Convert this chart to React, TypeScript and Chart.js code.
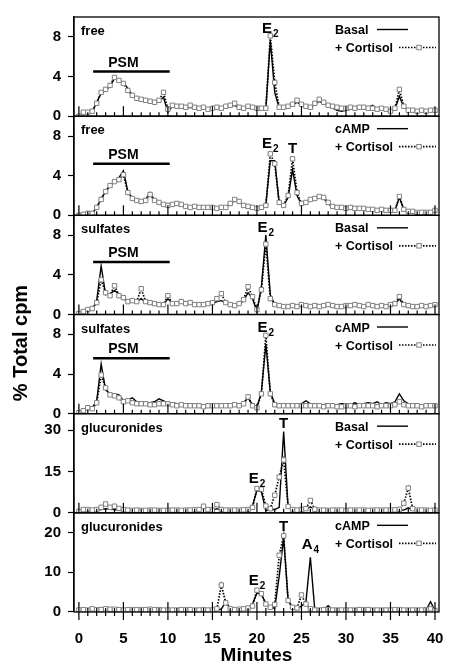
import React, { useEffect, useRef } from 'react';
import { Chart, registerables } from 'chart.js';

Chart.register(...registerables);

// ---------- data ----------
const minutes = [
  0, 0.5, 1, 1.5, 2, 2.5, 3, 3.5, 4, 4.5, 5, 5.5, 6, 6.5, 7, 7.5, 8, 8.5, 9, 9.5,
  10, 10.5, 11, 11.5, 12, 12.5, 13, 13.5, 14, 14.5, 15, 15.5, 16, 16.5, 17, 17.5, 18, 18.5, 19, 19.5,
  20, 20.5, 21, 21.5, 22, 22.5, 23, 23.5, 24, 24.5, 25, 25.5, 26, 26.5, 27, 27.5, 28, 28.5, 29, 29.5,
  30, 30.5, 31, 31.5, 32, 32.5, 33, 33.5, 34, 34.5, 35, 35.5, 36, 36.5, 37, 37.5, 38, 38.5, 39, 39.5, 40,
];

const freeBasal = [
  0.1, 0.3, 0.3, 0.4, 1.4, 2.3, 2.6, 3.0, 3.8, 3.6, 3.4, 2.8, 2.1, 1.8, 1.7, 1.6, 1.5, 1.4, 1.5, 1.9,
  0.4, 1.0, 0.9, 0.9, 0.8, 0.9, 0.8, 0.7, 0.8, 0.6, 0.7, 0.8, 0.8, 0.9, 1.0, 1.1, 0.8, 0.7, 0.9, 0.8,
  0.7, 0.7, 0.7, 7.6, 2.4, 0.8, 0.8, 0.9, 1.1, 1.4, 1.1, 0.9, 0.8, 1.2, 1.5, 1.3, 1.0, 0.8, 0.6, 0.5,
  0.6, 0.7, 0.8, 0.8, 0.8, 0.9, 1.1, 0.7, 0.7, 0.6, 0.5, 0.7, 2.0, 0.9, 0.6, 0.5, 0.5, 0.5, 0.5, 0.5, 0.5,
];
const freeBasalCortisol = [
  0.0, 0.4, 0.4, 0.5, 1.3, 2.4, 2.7, 3.1, 3.9, 3.6, 3.3, 2.6, 2.1, 1.8, 1.7, 1.6, 1.5, 1.4, 1.6, 2.4,
  0.7, 1.1, 1.0, 1.0, 0.9, 1.1, 0.9, 0.8, 0.9, 0.7, 0.8, 0.9, 0.8, 1.0, 1.1, 1.3, 0.9, 0.8, 1.0, 0.9,
  0.8, 0.8, 0.8, 8.1, 3.4, 0.9, 0.9, 1.0, 1.2, 1.6, 1.2, 1.0, 0.9, 1.3, 1.7, 1.4, 1.1, 1.0, 0.9, 0.8,
  0.8, 0.9, 0.8, 0.9, 0.9, 0.8, 0.8, 0.7, 0.8, 0.7, 0.5, 0.8, 2.7, 1.0, 0.6, 0.6, 0.5, 0.6, 0.5, 0.6, 0.6,
];

const freeCamp = [
  0.0, 0.1, 0.1, 0.2, 0.8, 1.7, 2.4, 3.0, 3.4, 3.8, 4.5, 2.4, 1.7, 1.5, 1.4, 1.6, 2.3, 1.5, 1.3, 1.1,
  1.0, 1.1, 1.1, 1.0, 0.8, 0.8, 0.8, 0.8, 0.7, 0.7, 0.7, 0.7, 0.7, 0.8, 1.1, 1.5, 1.4, 1.0, 0.8, 0.7,
  0.7, 0.8, 1.1, 5.5, 5.5, 1.2, 1.0, 1.8, 4.6, 2.0, 1.1, 1.3, 1.5, 1.7, 1.8, 1.7, 1.2, 0.8, 0.7, 0.7,
  0.7, 0.7, 0.6, 0.6, 0.6, 0.5, 0.5, 0.5, 0.5, 0.4, 0.4, 0.5, 1.8, 0.6, 0.4, 0.3, 0.3, 0.3, 0.3, 0.3, 0.4,
];
const freeCampCortisol = [
  0.0, 0.1, 0.2, 0.2, 0.8, 1.6, 2.4, 3.0, 3.4, 3.6, 4.1, 2.3, 1.7, 1.5, 1.4, 1.5, 2.1, 1.5, 1.3, 1.1,
  1.0, 1.1, 1.2, 1.1, 0.9, 0.8, 0.9, 0.8, 0.8, 0.8, 0.8, 0.7, 0.8, 0.8, 1.2, 1.6, 1.4, 1.0, 0.9, 0.8,
  0.7, 0.8, 1.0, 6.2, 5.2, 1.3, 1.0, 2.0, 5.7, 2.3, 1.2, 1.3, 1.6, 1.7, 1.9, 1.8, 1.3, 0.9, 0.8, 0.8,
  0.7, 0.8, 0.7, 0.7, 0.7, 0.6, 0.6, 0.5, 0.6, 0.5, 0.5, 0.5, 1.9, 0.6, 0.4, 0.4, 0.3, 0.3, 0.3, 0.3, 0.5,
];

const sulfatesBasal = [
  0.1, 0.2, 0.4, 0.5, 1.4, 4.9, 2.0, 2.1, 2.4, 2.1, 1.6, 1.3, 1.3, 1.3, 1.6, 1.2, 1.1, 1.0, 1.0, 1.0,
  1.6, 1.1, 1.1, 1.5, 1.2, 1.1, 1.0, 1.0, 1.0, 1.0, 1.1, 1.3, 1.4, 1.2, 1.0, 0.9, 1.0, 1.4, 2.2, 1.6,
  0.3, 2.8, 8.0, 2.0, 1.0, 0.8, 0.8, 0.8, 0.8, 0.8, 0.9, 0.9, 0.8, 0.8, 0.8, 0.9, 0.9, 0.8, 0.8, 0.8,
  0.8, 0.9, 0.9, 0.9, 0.8, 0.9, 0.9, 0.8, 0.8, 0.8, 0.9, 1.0, 1.6, 0.9, 0.8, 0.7, 0.7, 0.8, 0.7, 0.8, 0.9,
];
const sulfatesBasalCortisol = [
  0.1, 0.3, 0.5, 0.6, 1.2, 3.5, 2.2, 1.9, 2.9, 1.9, 1.7, 1.3, 1.4, 1.3, 2.6, 1.3, 1.2, 1.1, 1.0, 1.0,
  1.9, 1.1, 1.1, 1.3, 1.1, 1.2, 1.0, 1.0, 1.0, 1.1, 1.2, 1.6, 2.1, 1.2, 1.0, 0.9, 1.1, 1.5, 2.8, 1.8,
  0.5, 2.5, 7.1, 1.6, 1.0, 0.9, 0.8, 0.8, 0.9, 0.8, 1.0, 0.9, 0.8, 0.9, 0.8, 0.9, 1.0, 0.9, 0.8, 0.8,
  0.9, 0.9, 1.0, 0.9, 0.8, 1.0, 0.9, 0.8, 0.9, 0.8, 1.0, 1.1, 1.8, 1.0, 0.9, 0.8, 0.8, 0.9, 0.8, 0.9, 1.0,
];

const sulfatesCamp = [
  0.1, 0.3, 0.7, 0.6, 1.3, 5.0, 2.4, 2.0, 2.0, 1.9, 1.3, 1.4, 1.6, 1.2, 1.2, 1.1, 1.1, 1.2, 1.5, 1.3,
  1.1, 1.1, 1.0, 1.0, 0.9, 1.0, 0.9, 0.9, 0.9, 0.9, 0.9, 0.9, 0.9, 0.9, 0.9, 0.9, 0.8, 1.1, 1.6, 0.9,
  0.6, 2.2, 7.0, 2.2, 1.0, 0.9, 0.9, 1.0, 0.9, 0.9, 1.0, 1.3, 1.0, 0.9, 0.9, 0.9, 1.0, 0.9, 0.9, 1.0,
  1.0, 0.9, 1.1, 0.9, 1.0, 1.1, 1.0, 1.2, 0.9, 1.1, 1.0, 1.2, 2.0, 1.3, 1.0, 0.9, 0.8, 0.8, 0.9, 0.8, 0.8,
];
const sulfatesCampCortisol = [
  0.1, 0.3, 0.6, 0.5, 1.1, 3.9, 2.6, 1.9, 1.8, 1.6, 1.2, 1.3, 1.1, 1.0, 1.0, 1.0, 0.9, 0.9, 1.0, 1.0,
  1.0, 0.9, 0.8, 0.9, 0.8, 0.8, 0.8, 0.8, 0.7, 0.8, 0.8, 0.8, 0.8, 0.8, 0.8, 0.9, 0.8, 1.0, 1.7, 0.8,
  0.6, 2.0, 7.9, 2.0, 0.9, 0.8, 0.8, 0.8, 0.8, 0.8, 0.8, 0.8, 0.8, 0.8, 0.8, 0.7, 0.8, 0.8, 0.7, 0.7,
  0.8, 0.8, 0.7, 0.8, 0.8, 0.8, 0.8, 0.7, 0.8, 0.8, 0.8, 0.9, 1.2, 0.9, 0.8, 0.8, 0.8, 0.7, 0.8, 0.8, 0.8,
];

const glucBasal = [
  0.5, 1.0, 1.0, 1.0, 1.0, 1.2, 1.5, 1.3, 1.2, 1.0, 1.0, 0.9, 0.8, 0.8, 0.8, 0.8, 0.8, 0.8, 0.8, 0.8,
  0.8, 0.8, 0.8, 0.8, 0.8, 0.8, 0.9, 1.0, 2.8, 1.0, 0.9, 1.5, 1.0, 0.9, 0.9, 0.9, 0.9, 1.0, 1.2, 2.5,
  8.2, 7.6, 0.8, 1.2, 1.2, 2.0, 29.5, 2.0, 1.0, 1.0, 1.0, 1.2, 2.2, 1.1, 0.9, 0.9, 0.9, 0.9, 0.9, 0.9,
  0.9, 0.9, 0.9, 0.9, 0.9, 0.9, 0.9, 0.9, 0.9, 0.9, 0.9, 0.9, 1.0, 1.0, 1.8, 1.0, 0.9, 0.9, 0.9, 0.9, 0.9,
];
const glucBasalCortisol = [
  0.5, 1.2, 1.2, 1.0, 1.2, 2.0, 3.2, 2.0, 2.4, 1.6, 1.2, 1.0, 0.9, 1.0, 0.9, 0.9, 1.0, 1.0, 0.9, 0.9,
  0.9, 1.0, 1.0, 0.9, 1.0, 1.0, 1.1, 1.2, 2.4, 1.2, 1.0, 3.0, 1.2, 1.0, 1.0, 1.0, 1.0, 1.1, 1.2, 2.0,
  8.8, 8.6, 2.5, 1.5, 6.4, 13.0, 19.2, 2.3, 1.2, 1.0, 1.2, 1.5, 4.5, 1.3, 1.0, 1.0, 0.9, 1.0, 1.0, 1.0,
  0.9, 1.0, 1.0, 1.0, 1.0, 0.9, 1.0, 1.0, 1.0, 1.0, 1.0, 1.1, 1.3, 3.5, 9.0, 1.5, 1.0, 1.0, 1.0, 0.9, 1.0,
];

const glucCamp = [
  0.4, 0.5, 0.5, 0.7, 0.5, 0.6, 1.0, 0.8, 0.9, 0.8, 0.5, 0.5, 0.5, 0.5, 0.5, 0.5, 0.5, 0.5, 0.5, 0.5,
  0.5, 0.5, 0.5, 0.5, 0.5, 0.5, 0.5, 0.5, 0.5, 0.5, 0.5, 0.5, 0.7, 2.6, 0.8, 0.6, 0.6, 0.7, 0.9, 2.0,
  4.8, 4.4, 2.2, 1.0, 1.0, 9.0, 18.8, 3.0, 1.0, 0.8, 1.5, 2.5, 13.8, 0.5, 0.5, 0.6, 1.6, 0.5, 0.5, 0.5,
  0.5, 0.5, 0.5, 0.5, 0.5, 0.5, 0.5, 0.5, 0.5, 0.5, 0.5, 0.5, 0.5, 0.5, 0.5, 0.5, 0.5, 0.5, 0.5, 2.6, 0.3,
];
const glucCampCortisol = [
  0.5, 0.6, 0.5, 0.8, 0.6, 0.6, 0.8, 0.7, 0.7, 0.6, 0.5, 0.6, 0.6, 0.6, 0.6, 0.6, 0.7, 0.6, 0.6, 0.5,
  0.5, 0.5, 0.5, 0.6, 0.6, 0.6, 0.5, 0.5, 0.6, 0.5, 0.5, 0.8, 6.8, 2.3, 0.8, 0.6, 0.7, 0.8, 1.0, 1.5,
  5.5, 4.6, 2.0, 1.2, 1.9, 14.3, 19.2, 2.9, 1.2, 1.0, 4.3, 2.0, 0.8, 0.5, 0.5, 0.6, 0.6, 0.5, 0.5, 0.5,
  0.5, 0.5, 0.5, 0.6, 0.6, 0.6, 0.5, 0.5, 0.5, 0.5, 0.5, 0.6, 0.6, 0.5, 0.5, 0.5, 0.5, 0.5, 0.6, 0.8, 0.4,
];

const xTickValues = [0, 5, 10, 15, 20, 25, 30, 35, 40];
const yTicksFree = [0, 4, 8];
const yTicksGlucBasal = [0, 15, 30];
const yTicksGlucCamp = [0, 10, 20];
const panelNames = ['free', 'free', 'sulfates', 'sulfates', 'glucuronides', 'glucuronides'];
const controlNames = ['Basal', 'cAMP', 'Basal', 'cAMP', 'Basal', 'cAMP'];
const panelMax = [10, 10, 10, 10, 36, 25];
const psmLevels = [4.5, 5.2, 5.3, 5.6];
const psmRange = [1.6, 10.2];
const psmLabelX = 5.0;
const peakLabels = [
  { panel: 0, text: 'E', sub: '2', x: 21.5, y: 8.4 },
  { panel: 1, text: 'E', sub: '2', x: 21.5, y: 6.8 },
  { panel: 1, text: 'T', sub: '', x: 24.0, y: 6.3 },
  { panel: 2, text: 'E', sub: '2', x: 21.0, y: 8.3 },
  { panel: 3, text: 'E', sub: '2', x: 21.0, y: 8.2 },
  { panel: 4, text: 'T', sub: '', x: 23.0, y: 30.7 },
  { panel: 4, text: 'E', sub: '2', x: 20.0, y: 10.8 },
  { panel: 5, text: 'T', sub: '', x: 23.0, y: 20.3 },
  { panel: 5, text: 'E', sub: '2', x: 20.0, y: 6.7 },
  { panel: 5, text: 'A', sub: '4', x: 26.0, y: 16.0 },
];

// ---------- config ----------
const FONT = '"Liberation Sans", Arial, Helvetica, sans-serif';
const controlSeries = [freeBasal, freeCamp, sulfatesBasal, sulfatesCamp, glucBasal, glucCamp];
const cortisolSeries = [
  freeBasalCortisol, freeCampCortisol, sulfatesBasalCortisol,
  sulfatesCampCortisol, glucBasalCortisol, glucCampCortisol,
];
const yTickSets = [yTicksFree, yTicksFree, yTicksFree, yTicksFree, yTicksGlucBasal, yTicksGlucCamp];
const axisIds = ['y1', 'y2', 'y3', 'y4', 'y5', 'y6'];

function toPoints(vals: number[]) {
  return minutes.map((t, i) => ({ x: t, y: vals[i] }));
}

function drawMarker(ctx: CanvasRenderingContext2D, x: number, y: number) {
  ctx.save();
  ctx.setLineDash([]);
  ctx.fillStyle = '#fff';
  ctx.strokeStyle = '#808080';
  ctx.lineWidth = 1;
  ctx.fillRect(x - 2.2, y - 2.2, 4.4, 4.4);
  ctx.strokeRect(x - 2.2, y - 2.2, 4.4, 4.4);
  ctx.restore();
}

const overlay = {
  id: 'overlay',
  afterDraw(chart: any) {
    const { ctx, chartArea: ca, scales } = chart;
    const xs = scales.x;
    ctx.save();
    axisIds.forEach((id, idx) => {
      const ys = scales[id];
      const top = ys.top;
      const bottom = ys.bottom;
      // frame
      ctx.setLineDash([]);
      ctx.strokeStyle = '#000';
      ctx.lineWidth = 1.3;
      ctx.strokeRect(ca.left, top, ca.right - ca.left, bottom - top);
      // minute ticks
      ctx.lineWidth = 1.2;
      for (let m = 0; m <= 40; m++) {
        const px = xs.getPixelForValue(m);
        const major = m % 5 === 0;
        const up = major ? 10 : 4;
        const down = idx === axisIds.length - 1 ? (major ? 8 : 4) : 0;
        ctx.beginPath();
        ctx.moveTo(px, bottom - up);
        ctx.lineTo(px, bottom + down);
        ctx.stroke();
      }
      // panel name
      ctx.fillStyle = '#000';
      ctx.textAlign = 'left';
      ctx.textBaseline = 'alphabetic';
      ctx.font = `bold 13px ${FONT}`;
      ctx.fillText(panelNames[idx], ca.left + 7, top + 18);
      // legend
      const lx = ca.right - 104;
      ctx.font = `bold 12.5px ${FONT}`;
      ctx.fillText(controlNames[idx], lx, top + 17);
      ctx.fillText('+ Cortisol', lx, top + 35);
      ctx.lineWidth = 1.4;
      ctx.beginPath();
      ctx.moveTo(ca.right - 62, top + 12.5);
      ctx.lineTo(ca.right - 31, top + 12.5);
      ctx.stroke();
      ctx.lineWidth = 1.6;
      ctx.setLineDash([1.5, 1.5]);
      ctx.beginPath();
      ctx.moveTo(ca.right - 40, top + 30.5);
      ctx.lineTo(ca.right - 3, top + 30.5);
      ctx.stroke();
      drawMarker(ctx, ca.right - 20, top + 30.5);
      ctx.setLineDash([]);
      // PSM bar
      if (idx < psmLevels.length) {
        const y = ys.getPixelForValue(psmLevels[idx]);
        ctx.lineWidth = 2.5;
        ctx.beginPath();
        ctx.moveTo(xs.getPixelForValue(psmRange[0]), y);
        ctx.lineTo(xs.getPixelForValue(psmRange[1]), y);
        ctx.stroke();
        ctx.font = `bold 14px ${FONT}`;
        ctx.textAlign = 'center';
        ctx.fillText('PSM', xs.getPixelForValue(psmLabelX), y - 5);
      }
    });
    // peak labels
    peakLabels.forEach((p) => {
      const ys = scales[axisIds[p.panel]];
      const px = xs.getPixelForValue(p.x);
      const py = ys.getPixelForValue(p.y);
      ctx.font = `bold 15px ${FONT}`;
      const w1 = ctx.measureText(p.text).width;
      ctx.font = `bold 10px ${FONT}`;
      const w2 = p.sub ? ctx.measureText(p.sub).width + 1 : 0;
      const start = px - (w1 + w2) / 2;
      ctx.textAlign = 'left';
      ctx.textBaseline = 'alphabetic';
      ctx.fillStyle = '#000';
      ctx.font = `bold 15px ${FONT}`;
      ctx.fillText(p.text, start, py);
      if (p.sub) {
        ctx.font = `bold 10px ${FONT}`;
        ctx.fillText(p.sub, start + w1 + 1, py + 4);
      }
    });
    // y title
    ctx.save();
    ctx.translate(21, 343);
    ctx.rotate(-Math.PI / 2);
    ctx.font = `bold 20px ${FONT}`;
    ctx.textAlign = 'center';
    ctx.textBaseline = 'middle';
    ctx.fillText('% Total cpm', 0, 0);
    ctx.restore();
    ctx.restore();
  },
};

function buildConfig(): any {
  const datasets: any[] = [];
  axisIds.forEach((id, idx) => {
    datasets.push({
      label: `${panelNames[idx]} ${controlNames[idx]} + Cortisol`,
      data: toPoints(cortisolSeries[idx]),
      yAxisID: id,
      borderColor: '#000',
      borderWidth: 1.7,
      borderDash: [1.5, 1.5],
      pointStyle: 'rect',
      pointRadius: 3.1,
      pointBackgroundColor: '#fff',
      pointBorderColor: '#808080',
      pointBorderWidth: 1,
      tension: 0,
      order: 0,
    });
    datasets.push({
      label: `${panelNames[idx]} ${controlNames[idx]}`,
      data: toPoints(controlSeries[idx]),
      yAxisID: id,
      borderColor: '#000',
      borderWidth: 1.4,
      pointRadius: 0,
      tension: 0,
      order: 1,
    });
  });

  const scales: any = {
    x: {
      type: 'linear',
      position: 'bottom',
      min: -0.55,
      max: 40.45,
      afterBuildTicks: (s: any) => {
        s.ticks = xTickValues.map((v) => ({ value: v }));
      },
      ticks: {
        autoSkip: false,
        maxRotation: 0,
        color: '#000',
        padding: 10,
        font: { family: FONT, size: 15, weight: 'bold' },
      },
      grid: { display: false },
      border: { display: false },
      title: {
        display: true,
        text: 'Minutes',
        color: '#000',
        font: { family: FONT, size: 19, weight: 'bold' },
        padding: { top: 0, bottom: 2 },
      },
      afterFit: (s: any) => {
        s.height = 57;
        s.paddingLeft = 0;
        s.paddingRight = 0;
      },
    },
  };
  // define bottom panel first so that the top panel is stacked on top
  for (let idx = axisIds.length - 1; idx >= 0; idx--) {
    const ticks = yTickSets[idx];
    scales[axisIds[idx]] = {
      type: 'linear',
      position: 'left',
      stack: 'panels',
      stackWeight: 1,
      min: 0,
      max: panelMax[idx],
      afterBuildTicks: (s: any) => {
        s.ticks = ticks.map((v) => ({ value: v }));
      },
      ticks: {
        autoSkip: false,
        color: '#000',
        padding: 7,
        font: { family: FONT, size: 15, weight: 'bold' },
      },
      grid: {
        drawOnChartArea: false,
        drawTicks: true,
        tickLength: 6,
        color: '#000',
        tickWidth: 1.2,
      },
      border: { display: true, color: '#000', width: 1.3 },
      afterFit: (s: any) => {
        s.width = 74;
        s.paddingTop = 0;
        s.paddingBottom = 0;
      },
    };
  }

  return {
    type: 'line',
    data: { datasets },
    options: {
      responsive: false,
      maintainAspectRatio: false,
      devicePixelRatio: 1,
      animation: false,
      layout: { padding: { top: 17, right: 11, left: 0, bottom: 0 } },
      plugins: { legend: { display: false }, tooltip: { enabled: false } },
      scales,
    },
    plugins: [overlay],
  };
}

export default function App() {
  const ref = useRef<HTMLCanvasElement>(null);
  useEffect(() => {
    if (!ref.current) return;
    const chart = new Chart(ref.current, buildConfig());
    return () => chart.destroy();
  }, []);
  return (
    <div style={{ position: 'absolute', left: 0, top: 0, width: 450, height: 669, background: '#fff' }}>
      <canvas ref={ref} width={450} height={669} style={{ width: 450, height: 669, display: 'block' }} />
    </div>
  );
}
